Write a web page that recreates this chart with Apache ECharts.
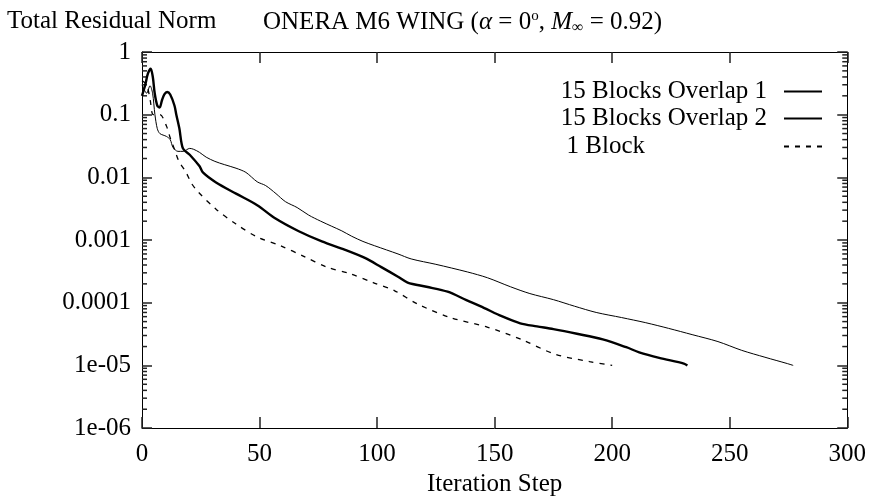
<!DOCTYPE html>
<html>
<head>
<meta charset="utf-8">
<title>ONERA M6 WING residual</title>
<script src="https://cdn.jsdelivr.net/npm/echarts@6/dist/echarts.min.js"></script>
<style>
    html, body { margin: 0; padding: 0; background: #fff; }
    #main { width: 869px; height: 502px; }
</style>
</head>
<body>
<div id="main"></div>
<script type="text/javascript">

    // residual norm vs iteration step
    var overlap1 = [[0,0.3],[2,0.22],[3.4,0.29],[4.5,0.22],[5.5,0.1],[6.5,0.06],[7.6,0.05],[10.4,0.045],[12,0.04],
        [13.2,0.03],[15.3,0.026],[17.5,0.026],[20.3,0.029],[22,0.028],[24.5,0.025],[27.3,0.021],[31,0.018],
        [35,0.016],[40,0.014],[44.2,0.012],[49,0.0085],[52.6,0.0074],[57,0.0055],[61,0.0041],[66,0.0033],
        [70.9,0.0025],[76,0.002],[80.7,0.00166],[85,0.0014],[89.2,0.00115],[94,0.00095],[99,0.00081],
        [108.9,0.0006],[114.5,0.0005],[125,0.00041],[138.4,0.00031],[147,0.00025],[156.7,0.00018],
        [165,0.00014],[175,0.000112],[184,0.000088],[193.2,0.00007],[204,0.000058],[214.3,0.000048],
        [224,0.000039],[234,0.000031],[245,0.000024],[255.1,0.0000174],[265,0.0000135],[274.5,0.0000107],[277,0.00001]];

    var overlap2 = [[0,0.2],[1.4,0.3],[2.5,0.45],[3.7,0.54],[4.6,0.4],[5.4,0.22],[6.5,0.14],[7.5,0.13],[8.5,0.17],
        [9.5,0.21],[10.7,0.23],[12,0.21],[13.8,0.14],[14.6,0.1],[15.9,0.06],[17.4,0.029],[20.3,0.023],
        [24.5,0.015],[25.9,0.012],[31.5,0.0083],[40,0.0055],[49,0.0036],[56.8,0.0022],[66.7,0.00138],
        [76.5,0.00095],[86.4,0.0007],[94.8,0.00052],[101.8,0.00037],[108.9,0.00026],[113,0.00021],
        [121,0.00018],[130,0.00015],[138,0.00011],[145.4,0.000083],[153,0.000061],[160.9,0.000047],
        [168,0.000042],[175,0.000038],[185,0.000032],[196,0.000026],[206,0.0000195],[211.5,0.0000162],
        [220,0.0000132],[230.5,0.0000107],[232,0.00001]];

    var oneBlock = [[0,0.35],[2,0.3],[3.5,0.17],[4.8,0.1],[7.6,0.1],[10.4,0.066],[11.8,0.045],[13.9,0.0275],
        [15.7,0.018],[18.6,0.0123],[21,0.0081],[23.8,0.0059],[31.5,0.0031],[40,0.0018],[49,0.00112],
        [59,0.00081],[68.8,0.00055],[78.6,0.00037],[88.5,0.00029],[98.3,0.00021],[107.5,0.000155],
        [117.3,0.000095],[131.4,0.0000575],[146.8,0.000041],[161.6,0.0000257],[175.7,0.0000151],
        [190.4,0.0000115],[200,0.00001]];

    var seriesNames = ['15 Blocks Overlap 1', '15 Blocks Overlap 2', '1 Block'];
    var yTickLabels = {'0':'1','-1':'0.1','-2':'0.01','-3':'0.001','-4':'0.0001','-5':'1e-05','-6':'1e-06'};
    var decades = [-6,-5,-4,-3,-2,-1];
    var minorFactors = [2,3,4,5,6,7,8,9];

    var minorTicks = [];
    decades.forEach(function (d) {
        minorFactors.forEach(function (k) { minorTicks.push([0, k * Math.pow(10, d)]); });
    });

    var font = "'Liberation Serif', 'DejaVu Serif', serif";
    var fs = 25;

    var myChart = echarts.init(document.getElementById('main'));

    function legendFor(name, top, padRight) {
        return {
            data: [name], right: 46, top: top, align: 'right',
            padding: 0, itemWidth: 38, itemHeight: 14, selectedMode: false,
            itemStyle: {opacity: 0},
            textStyle: {fontFamily: font, fontSize: fs, color: '#000', padding: [0, padRight, 0, 0]}
        };
    }

    function xAx(pos, showLabel) {
        return {
            type: 'value', min: 0, max: 300, interval: 50, position: pos,
            axisLine: {show: true, onZero: false, lineStyle: {color: '#000', width: 1}},
            axisTick: {show: true, inside: true, length: 11, lineStyle: {color: '#222', width: 1.5}},
            axisLabel: {show: showLabel, fontFamily: font, fontSize: fs, color: '#000', margin: 14},
            splitLine: {show: false}
        };
    }

    function yAx(pos, showLabel) {
        return {
            type: 'log', logBase: 10, min: 1e-6, max: 1, interval: 1, position: pos,
            axisLine: {show: true, onZero: false, lineStyle: {color: '#000', width: 1}},
            axisTick: {show: true, inside: true, length: 10, lineStyle: {color: '#222', width: 1.5}},
            axisLabel: {
                show: showLabel, fontFamily: font, fontSize: fs, color: '#000', margin: 11,
                formatter: function (v) { return yTickLabels[String(Math.round(Math.log10(v)))] || ''; }
            },
            splitLine: {show: false}
        };
    }

    var bottomX = xAx('bottom', true);
    bottomX.name = 'Iteration Step';
    bottomX.nameLocation = 'middle';
    bottomX.nameGap = 38;
    bottomX.nameTextStyle = {fontFamily: font, fontSize: fs, color: '#000'};

    var option = {
        animation: false,
        title: [{
            text: 'Total Residual Norm', left: 2, top: 4,
            textStyle: {fontFamily: font, fontSize: fs, fontWeight: 'normal', color: '#000'}
        }, {
            text: '{n|ONERA M6 WING (}{i|α}{n| = 0}{sup|o}{n|, }{i|M}{sub|∞}{n| = 0.92)}',
            left: 258, top: 4,
            textStyle: {
                fontFamily: font, fontSize: fs, fontWeight: 'normal', color: '#000',
                rich: {
                    n: {fontFamily: font, fontSize: fs, color: '#000'},
                    i: {fontFamily: font, fontSize: fs, fontStyle: 'italic', color: '#000'},
                    sup: {fontFamily: font, fontSize: 15, color: '#000', padding: [0, 0, 12, 0]},
                    sub: {fontFamily: font, fontSize: 16, color: '#000', padding: [10, 0, 0, 0]}
                }
            }
        }],
        legend: [
            legendFor(seriesNames[0], 79, 12),
            legendFor(seriesNames[1], 106, 12),
            legendFor(seriesNames[2], 134, 134)
        ],
        grid: {left: 142, right: 16, top: 52, bottom: 66},
        xAxis: [bottomX, xAx('top', false)],
        yAxis: [yAx('left', true), yAx('right', false)],
        series: [{
            name: seriesNames[0], type: 'line', data: overlap1, symbol: 'none', smooth: 0.3,
            lineStyle: {color: '#000', width: 1}, itemStyle: {color: '#000'}
        }, {
            name: seriesNames[1], type: 'line', data: overlap2, symbol: 'none', smooth: 0.3,
            lineStyle: {color: '#000', width: 2.4}, itemStyle: {color: '#000'}
        }, {
            name: seriesNames[2], type: 'line', data: oneBlock, symbol: 'none', smooth: 0.3,
            lineStyle: {color: '#000', width: 1.3, type: [5, 6]}, itemStyle: {color: '#000'}
        }, {
            // minor log ticks on both sides of the frame
            type: 'custom', silent: true, data: minorTicks,
            renderItem: function (params, api) {
                var v = api.value(1);
                var pl = api.coord([0, v]);
                var pr = api.coord([300, v]);
                return {
                    type: 'group',
                    children: [
                        {type: 'line', shape: {x1: pl[0], y1: pl[1], x2: pl[0] + 5, y2: pl[1]}, style: {stroke: '#222', lineWidth: 1.5}},
                        {type: 'line', shape: {x1: pr[0], y1: pr[1], x2: pr[0] - 5, y2: pr[1]}, style: {stroke: '#222', lineWidth: 1.5}}
                    ]
                };
            }
        }]
    };

    myChart.setOption(option);

</script>
</body>
</html>
